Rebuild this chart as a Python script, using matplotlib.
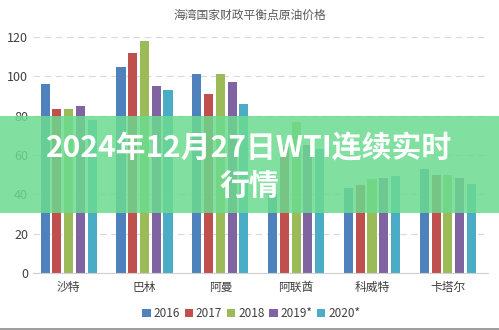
import numpy as np
import matplotlib
matplotlib.use("Agg")
import matplotlib.pyplot as plt
from matplotlib.patches import Rectangle

plt.rcParams['font.family'] = ['Noto Sans CJK SC', 'DejaVu Sans']

# Datos: precio de equilibrio fiscal por país y año
paises = ['沙特', '巴林', '阿曼', '阿联酋', '科威特', '卡塔尔']
anios = ['2016', '2017', '2018', '2019*', '2020*']
v2016 = [96, 105, 101, 40, 43, 53]
v2017 = [83.5, 112, 91, 64, 45, 50]
v2018 = [83.5, 118, 101, 77, 48, 50]
v2019 = [85, 95, 97, 65, 48.5, 48.5]
v2020 = [78, 93, 86, 63, 49.5, 45.5]
series = [v2016, v2017, v2018, v2019, v2020]
colores = ['#4f81bd', '#c0504d', '#9bbb59', '#8064a2', '#4bacc6']

titulo = '海湾国家财政平衡点原油价格'
rotulo = '2024年12月27日WTI连续实时\n行情'

fig = plt.figure(figsize=(4.99, 3.30), dpi=100)
ax = fig.add_axes([33 / 499, 57 / 330, 455 / 499, 236 / 330])

x = np.arange(len(paises))
paso = 0.155
ancho = 0.12
for i, (vals, c, lab) in enumerate(zip(series, colores, anios)):
    ax.bar(x + (i - 2) * paso, vals, width=ancho, color=c, label=lab, zorder=2)

ax.set_xlim(-0.47, 5.53)
ax.set_ylim(0, 120)
ax.set_yticks(range(0, 121, 20))
ax.grid(axis='y', color='#d9d9d9', linestyle=(0, (6, 4)), linewidth=0.8, zorder=0)
for s in ['top', 'right', 'left']:
    ax.spines[s].set_visible(False)
ax.spines['bottom'].set_color('#d0d0d0')
ax.set_xticks(x)
ax.set_xticklabels(paises, fontsize=8.5, color='#404040')
ax.tick_params(axis='both', length=0, colors='#404040', labelsize=9)
ax.tick_params(axis='x', pad=6, labelsize=8.5)

fig.text(0.5, 1 - 15 / 330, titulo, ha='center', va='center', fontsize=8.5, color='#595959')

ax.legend(loc='upper center', bbox_to_anchor=(0.48, -0.10), ncol=5, frameon=False,
          fontsize=8.5, handlelength=0.7, handleheight=0.7, handletextpad=0.25,
          columnspacing=0.4, labelcolor='#404040')

# Banda verde con el rótulo
fig.patches.append(Rectangle((0, 1 - 213 / 330), 1, 97 / 330, transform=fig.transFigure,
                             facecolor=(0.42, 0.86, 0.565), alpha=0.85, edgecolor='none', zorder=5))
fig.text(0.5, 1 - 167 / 330, rotulo, ha='center', va='center', fontsize=21.5,
         fontweight='bold', color='white', linespacing=1.3, zorder=6)

# Línea inferior
fig.add_artist(plt.Line2D([0, 1], [1.5 / 330, 1.5 / 330], transform=fig.transFigure,
                          color='#8c8c8c', linewidth=1.2))

fig.savefig('out.png', dpi=100)
